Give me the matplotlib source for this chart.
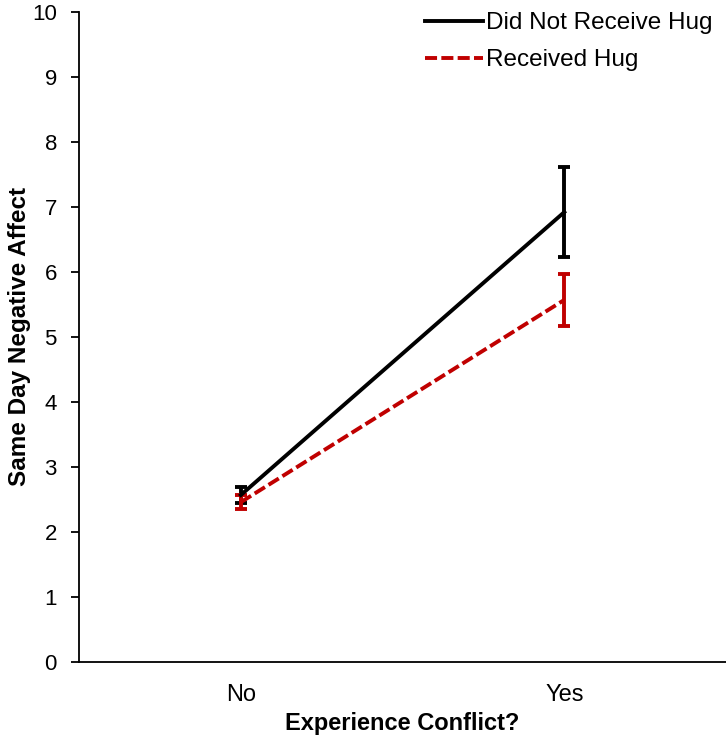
import matplotlib.pyplot as plt
import numpy as np

plt.rcParams['font.family'] = ['Liberation Sans', 'DejaVu Sans']

categories = ['No', 'Yes']
series_names = ['Did Not Receive Hug', 'Received Hug']
no_hug = [2.57, 6.92]
no_hug_err = [0.12, 0.69]
hug = [2.46, 5.57]
hug_err = [0.11, 0.40]

x = np.arange(len(categories))

fig = plt.figure(figsize=(7.26, 7.39), dpi=100)
ax = fig.add_axes([0.109, 0.104, 0.891, 0.88])

lw = 2.8
eb1 = ax.errorbar(x, no_hug, yerr=no_hug_err, color='black', lw=lw, capsize=4.3,
                  capthick=lw, elinewidth=lw)
eb2 = ax.errorbar(x, hug, yerr=hug_err, color='#C00000', lw=lw, ls=(0, (3.1, 1.1)),
                  capsize=4.3, capthick=lw, elinewidth=lw)

ax.set_xlim(-0.5, 1.5)
ax.set_ylim(0, 10)
ax.set_yticks(range(0, 11))
ax.set_xticks(x)
ax.set_xticklabels(categories)
ax.tick_params(axis='y', length=6, width=1.3, labelsize=16, pad=10)
ax.tick_params(axis='x', length=0, labelsize=17, pad=16)
ax.spines['top'].set_visible(False)
ax.spines['right'].set_visible(False)
ax.spines['left'].set_linewidth(1.3)
ax.spines['bottom'].set_linewidth(1.3)

ax.set_xlabel('Experience Conflict?', fontsize=17, fontweight='bold', labelpad=4)
ax.set_ylabel('Same Day Negative Affect', fontsize=17.5, fontweight='bold', labelpad=1)

ax.legend([eb1[0], eb2[0]], series_names, loc='upper right', bbox_to_anchor=(0.988, 0.99),
          bbox_transform=fig.transFigure, frameon=False, fontsize=17.5,
          handlelength=2.4, handletextpad=0.12, labelspacing=0.62,
          borderaxespad=0.1, borderpad=0.1)

fig.savefig('out.png', dpi=100)
